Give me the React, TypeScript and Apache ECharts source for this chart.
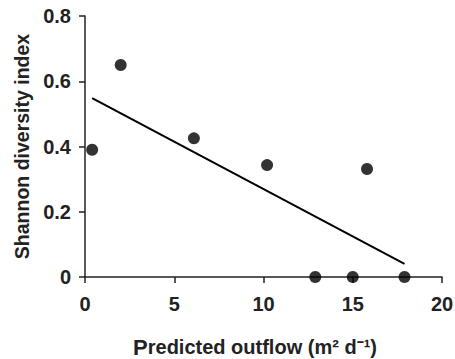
import React, { useEffect, useRef } from "react";
import * as echarts from "echarts";

const outflow = [0.4, 2.0, 6.1, 10.2, 15.8, 12.9, 15.0, 17.9];
const diversity = [0.39, 0.65, 0.425, 0.343, 0.331, 0, 0, 0];
const trendX = [0.4, 17.9];
const trendY = [0.548, 0.04];
const xTicks = [0, 5, 10, 15, 20];
const yTicks = [0, 0.2, 0.4, 0.6, 0.8];

const FONT = "'Liberation Sans', Arial, Helvetica, sans-serif";

export default function App() {
  const ref = useRef<HTMLDivElement>(null);
  useEffect(() => {
    document.body.style.margin = "0";
    if (!ref.current) return;
    const chart = echarts.init(ref.current, undefined, { renderer: "svg" });
    const axisCommon = {
      axisLine: { show: true, onZero: false, lineStyle: { color: "#222", width: 1.5 } },
      axisTick: { show: true, inside: false, length: 6, lineStyle: { color: "#222", width: 1.5 } },
      splitLine: { show: false },
    };
    chart.setOption({
      animation: false,
      backgroundColor: "#fff",
      textStyle: { fontFamily: FONT },
      grid: { left: 85, right: 13, top: 16, bottom: 82, containLabel: false, outerBoundsMode: "none" },
      xAxis: {
        type: "value",
        min: xTicks[0],
        max: xTicks[xTicks.length - 1],
        interval: 5,
        ...axisCommon,
        axisLabel: {
          margin: 17,
          fontSize: 20,
          fontWeight: "bold",
          color: "#222",
          fontFamily: FONT,
        },
        name: "{p|P}{t|redicted outflow (m² d⁻¹)}",
        nameLocation: "middle",
        nameGap: 59,
        nameTextStyle: {
          rich: {
            p: { fontSize: 22, lineHeight: 22, fontWeight: "bold", color: "#222", fontFamily: FONT },
            t: { fontSize: 20, lineHeight: 22, fontWeight: "bold", color: "#222", fontFamily: FONT },
          },
          padding: [0, 17, 0, 0],
        },
      },
      yAxis: {
        type: "value",
        min: yTicks[0],
        max: yTicks[yTicks.length - 1],
        interval: 0.2,
        ...axisCommon,
        axisLabel: {
          margin: 14,
          fontSize: 20,
          fontWeight: "bold",
          color: "#222",
          fontFamily: FONT,
          formatter: (v: number) => (v === 0 ? "0" : String(Math.round(v * 10) / 10)),
        },
        name: "Shannon diversity index",
        nameLocation: "middle",
        nameGap: 50,
        nameRotate: 90,
        nameTextStyle: {
          fontSize: 19.5,
          fontWeight: "bold",
          color: "#222",
          fontFamily: FONT,
        },
      },
      series: [
        {
          type: "line",
          data: trendX.map((x, i) => [x, trendY[i]]),
          showSymbol: false,
          symbol: "none",
          lineStyle: { color: "#000", width: 2 },
          z: 2,
        },
        {
          type: "scatter",
          data: outflow.map((x, i) => [x, diversity[i]]),
          symbol: "circle",
          symbolSize: 12,
          itemStyle: { color: "#000" },
          z: 3,
        },
      ],
    });
    return () => chart.dispose();
  }, []);
  return <div ref={ref} style={{ width: 455, height: 359 }} />;
}
